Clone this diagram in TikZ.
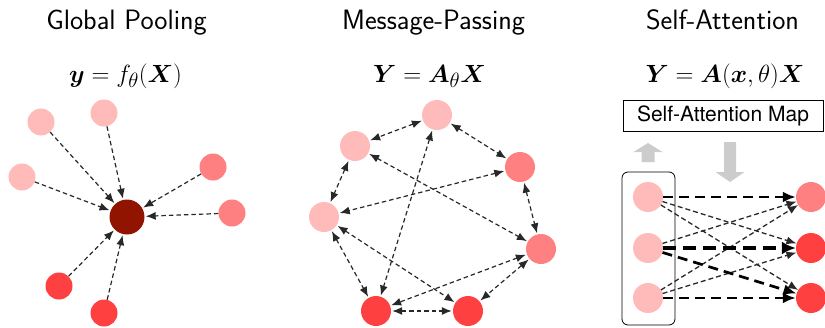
\documentclass[tikz,border=0pt]{standalone}
\usepackage{amsmath,amssymb}
\usepackage{fontspec}
\newfontfamily\helv{TeX Gyre Heros}
\usetikzlibrary{arrows.meta}
\definecolor{cpink}{RGB}{255,186,186}
\definecolor{csalmon}{RGB}{255,128,128}
\definecolor{cred}{RGB}{255,64,64}
\definecolor{cdark}{RGB}{145,20,0}
\definecolor{cedge}{RGB}{40,40,40}
\definecolor{cgray}{RGB}{204,204,204}
\tikzset{
  title/.style={anchor=base, font=\sffamily\fontsize{28}{32}\selectfont},
  formula/.style={anchor=base, font=\fontsize{29}{33}\selectfont},
  gn/.style={circle, inner sep=0pt, minimum size=27pt},
  mn/.style={circle, inner sep=0pt, minimum size=30pt},
  pinkn/.style={fill=cpink},
  salmonn/.style={fill=csalmon},
  redn/.style={fill=cred},
  edge/.style={draw=cedge, line width=1.2pt, dash pattern=on 4.5pt off 3pt,
    -{Latex[length=10pt,width=8pt]}, shorten >=1pt},
  biedge/.style={draw=cedge, line width=1.2pt, dash pattern=on 4.5pt off 3pt,
    {Latex[length=10pt,width=8pt]}-{Latex[length=10pt,width=8pt]}, shorten >=1pt, shorten <=1pt},
  thinatt/.style={draw=cedge, line width=1.3pt, dash pattern=on 5pt off 3pt,
    -{Latex[length=10pt,width=8pt]}},
  thickatt/.style={draw=black, line width=2.7pt, dash pattern=on 10pt off 6pt,
    -{Latex[length=13pt,width=11pt]}},
  heavyatt/.style={draw=black, line width=4pt, dash pattern=on 13pt off 7pt,
    -{Latex[length=14pt,width=13pt]}},
}
\begin{document}
\begin{tikzpicture}[x=1pt,y=-1pt]
\useasboundingbox (0,0) rectangle (825,327);

% titles
\node[title] (t1) at (126.5,29) {Global Pooling};
\node[title] (t2) at (433.5,29) {Message-Passing};
\node[title] (t3) at (722.5,29) {Self-Attention};

% formulas
\node[formula] (f1) at (125.5,82) {$\boldsymbol{y} = f_\theta(\boldsymbol{X})$};
\node[formula] (f2) at (429.5,82) {$\boldsymbol{Y} = \boldsymbol{A}_\theta\boldsymbol{X}$};
\node[formula] (f3) at (725,82) {$\boldsymbol{Y} = \boldsymbol{A}(\boldsymbol{x},\theta)\boldsymbol{X}$};

% ---------- Global pooling ----------
\node[gn,pinkn] (g1) at (41,122) {};
\node[gn,pinkn] (g2) at (104,113) {};
\node[gn,pinkn] (g3) at (22,177) {};
\node[gn,salmonn] (g4) at (213,167) {};
\node[gn,salmonn] (g5) at (232,213) {};
\node[gn,redn] (g6) at (59,286) {};
\node[gn,redn] (g7) at (104,313) {};
\node[circle, inner sep=0pt, minimum size=35pt, fill=cdark] (gc) at (127,217) {};
\foreach \n in {g1,g2,g3,g4,g5,g6,g7}
  \draw[edge] (\n) -- (gc);

% ---------- Message passing ----------
\node[mn,pinkn] (m1) at (437,115) {};
\node[mn,pinkn] (m2) at (355,146) {};
\node[mn,salmonn] (m3) at (520,167) {};
\node[mn,pinkn] (m4) at (324,217) {};
\node[mn,salmonn] (m5) at (541,249) {};
\node[mn,redn] (m6) at (376,311) {};
\node[mn,redn] (m7) at (468,311) {};
\foreach \a/\b in {m1/m2,m1/m3,m1/m6,m2/m4,m2/m5,m3/m4,m3/m5,m4/m6,m4/m7,m5/m6,m5/m7,m6/m7}
  \draw[biedge] (\a) -- (\b);

% ---------- Self-attention ----------
\node[draw=black, line width=0.8pt, minimum width=200pt, minimum height=31pt, inner sep=0pt,
  font=\helv\fontsize{21}{24}\selectfont] (map) at (723,115.5) {Self-Attention Map};
\node[draw=black, line width=0.8pt, rounded corners=6pt, minimum width=53pt, minimum height=153pt, inner sep=0pt] (grp) at (648.5,248.5) {};
\fill[cgray] (641.5,162) -- (641.5,152) -- (633.5,152) -- (648,143) -- (662.5,152) -- (654.5,152) -- (654.5,162) -- cycle;
\fill[cgray] (724,142) -- (736,142) -- (736,172) -- (744.5,172) -- (730,182) -- (715.5,172) -- (724,172) -- cycle;

\node[mn,pinkn] (l1) at (648,197) {};
\node[mn,pinkn] (l2) at (648,248) {};
\node[mn,pinkn] (l3) at (648,298) {};
\node[mn,salmonn] (r1) at (811,197) {};
\node[mn,redn] (r2) at (811,248) {};
\node[mn,redn] (r3) at (811,298) {};

\draw[thinatt] (l1) -- (r2);
\draw[thinatt] (l1) -- (r3);
\draw[thinatt] (l2) -- (r1);
\draw[thinatt] (l3) -- (r1);
\draw[thinatt] (l3) -- (r2);
\draw[thickatt] (l1) -- (r1);
\draw[thickatt] (l2) -- (r3);
\draw[thickatt] (l3) -- (r3);
\draw[heavyatt] (l2) -- (r2);
\end{tikzpicture}
\end{document}
